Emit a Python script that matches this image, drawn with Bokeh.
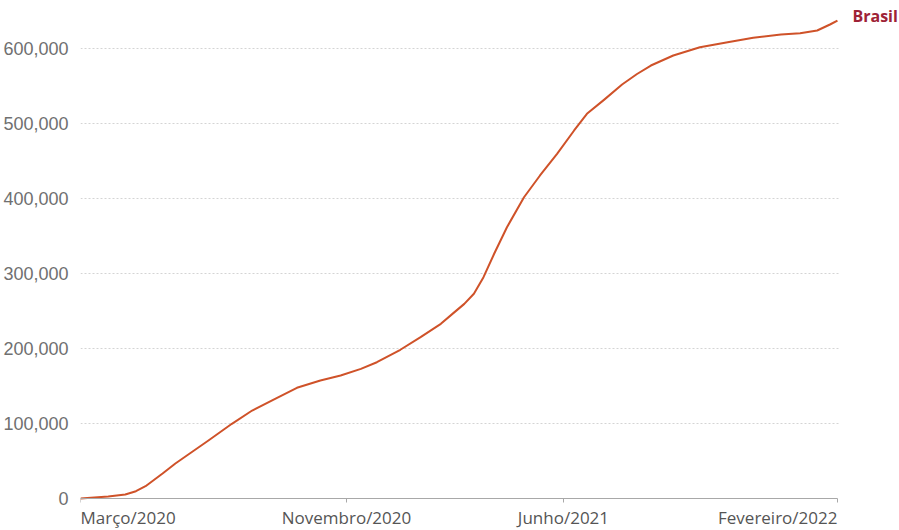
from bokeh.plotting import figure
from bokeh.models import Range1d, FixedTicker, Label, NumeralTickFormatter, LinearAxis
from bokeh.embed import file_html
from bokeh.resources import INLINE

# Days since start of series (Março/2020) and cumulative deaths
days = [0, 26, 42, 52, 61, 77, 89, 120, 142, 161, 183, 203, 225, 244, 263, 278,
        300, 319, 338, 350, 360, 369, 378, 388, 400, 416, 431, 447, 463, 475, 491,
        508, 522, 535, 556, 581, 607, 631, 657, 675, 691, 703, 710]
deaths = [0, 2700, 5300, 9700, 16400, 33300, 46700, 77300, 99600, 117300, 133300,
          147600, 157300, 164000, 172900, 181700, 198300, 215100, 232900, 247500,
          259500, 273000, 295100, 326300, 361700, 401700, 430700, 459600, 490700,
          512900, 531500, 552000, 566000, 577300, 590700, 601700, 608400, 614300,
          618700, 620400, 624000, 632000, 637300]

tick_days = [0, 249.5, 453, 710]
tick_labels = ["Março/2020", "Novembro/2020", "Junho/2021", "Fevereiro/2022"]
tick_align = ["left", "center", "center", "right"]
y_ticks = [0, 100000, 200000, 300000, 400000, 500000, 600000]
series_name = "Brasil"

# frame spans x=80..899 and y=0..530 of the page; data day 710 sits at x=837,
# value 0 at y=498 and 600,000 at y=48
p = figure(width=899, height=530, output_backend="svg", toolbar_location=None,
           x_range=Range1d(0, 768.2), y_range=Range1d(-42667, 664000),
           x_axis_location=None,
           min_border_left=80, min_border_right=0, min_border_top=0,
           min_border_bottom=0)
p.outline_line_color = None
p.background_fill_color = "white"
p.border_fill_color = "white"
p.xgrid.grid_line_color = None
p.ygrid.grid_line_color = None

# dotted horizontal grid, spanning only the data period
grid_y = y_ticks[1:]
p.segment(x0=[days[0]] * len(grid_y), x1=[days[-1] + 1] * len(grid_y),
          y0=grid_y, y1=grid_y, line_color="#d4d4d4", line_width=1,
          line_dash="2 2")

p.line(days, deaths, line_color="#cf5229", line_width=2, line_join="round")

# x axis drawn at value 0
xa = LinearAxis(fixed_location=0, bounds=(days[0], days[-1]))
xa.ticker = FixedTicker(ticks=tick_days)
xa.major_label_overrides = {t: "" for t in tick_days}
xa.major_label_text_font_size = "0px"
xa.axis_line_color = "#a8a8a8"
xa.major_tick_line_color = "#a8a8a8"
xa.major_tick_out = 4
xa.major_tick_in = 0
xa.minor_tick_line_color = None
p.add_layout(xa, "below")

for t, lab, al in zip(tick_days, tick_labels, tick_align):
    p.add_layout(Label(x=t, y=-25300, x_units="data", y_units="data", text=lab,
                       text_align=al, text_baseline="middle",
                       text_font="Open Sans", text_font_size="17px",
                       text_color="#555555"))

# y axis
ya = p.yaxis[0]
ya.ticker = FixedTicker(ticks=y_ticks)
ya.formatter = NumeralTickFormatter(format="0,0")
ya.axis_line_color = None
ya.major_tick_line_color = None
ya.minor_tick_line_color = None
ya.major_label_standoff = 6
ya.major_label_text_font = "Liberation Sans"
ya.major_label_text_font_size = "18px"
ya.major_label_text_color = "#707070"

p.add_layout(Label(x=days[-1], y=deaths[-1], x_units="data", y_units="data",
                   text=series_name, x_offset=15, y_offset=5,
                   text_baseline="middle", text_align="left",
                   text_font="Open Sans", text_font_style="bold",
                   text_font_size="16px", text_color="#9e2236"))

open("out.html", "w").write(file_html(p, INLINE))
